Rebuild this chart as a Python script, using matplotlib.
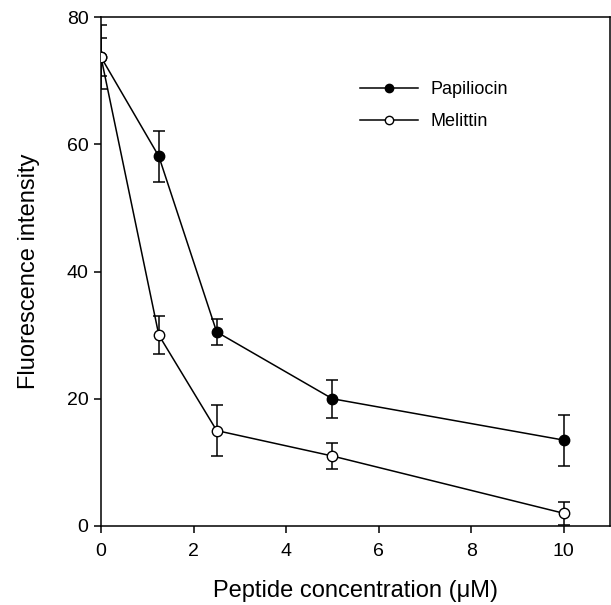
import matplotlib
matplotlib.use("Agg")
import matplotlib.pyplot as plt
from matplotlib.lines import Line2D

plt.rcParams["font.family"] = ["Liberation Sans", "DejaVu Sans"]

# peptide concentration (uM)
conc = [0, 1.25, 2.5, 5, 10]

papiliocin = [73.7, 58.1, 30.5, 20.0, 13.5]
papiliocin_err = [3.0, 4.0, 2.0, 3.0, 4.0]

melittin = [73.7, 30.0, 15.0, 11.0, 2.0]
melittin_err = [5.0, 3.0, 4.0, 2.0, 1.8]

fig = plt.figure(figsize=(6.11, 6.05), dpi=100)
ax = fig.add_axes([101 / 611, 79 / 605, 509 / 611, 509 / 605])

ax.errorbar(conc, papiliocin, yerr=papiliocin_err, color="black", lw=1.1,
            marker="o", ms=7.5, mfc="black", mec="black", capsize=4,
            elinewidth=1.1, capthick=1.1, zorder=3)
ax.errorbar(conc, melittin, yerr=melittin_err, color="black", lw=1.1,
            marker="o", ms=7.5, mfc="white", mec="black", capsize=4,
            elinewidth=1.1, capthick=1.1, zorder=3)

ax.set_xlim(0, 11)
ax.set_ylim(0, 80)
ax.set_xticks([0, 2, 4, 6, 8, 10])
ax.set_yticks([0, 20, 40, 60, 80])
ax.tick_params(direction="out", length=5, width=1.1, labelsize=14)
ax.tick_params(axis="x", pad=7)
ax.tick_params(axis="y", pad=4)
for s in ax.spines.values():
    s.set_linewidth(1.1)

ax.set_xlabel("Peptide concentration (\u03bcM)", fontsize=17, labelpad=15)
ax.set_ylabel("Fluorescence intensity", fontsize=17, labelpad=19)

handles = [
    Line2D([], [], color="black", lw=1.1, marker="o", ms=6,
           mfc="black", mec="black"),
    Line2D([], [], color="black", lw=1.1, marker="o", ms=6,
           mfc="white", mec="black"),
]
ax.legend(handles, ["Papiliocin", "Melittin"], loc="upper left",
          bbox_to_anchor=(0.509, 0.874), frameon=False, fontsize=13,
          borderpad=0, borderaxespad=0, handlelength=3.2,
          handletextpad=0.7, labelspacing=0.85)

fig.savefig("out.png", dpi=100)
